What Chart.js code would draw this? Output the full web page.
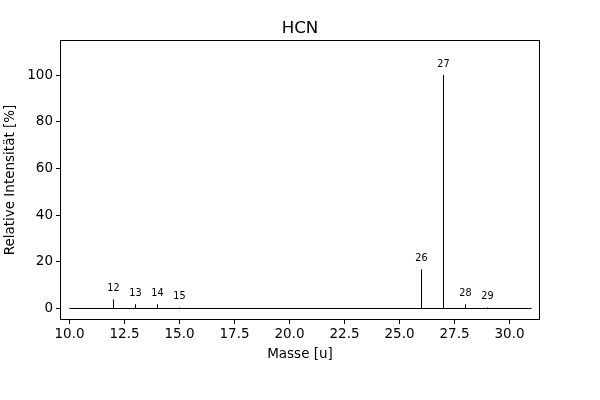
<!DOCTYPE html>
<html>
<head>
<meta charset="utf-8">
<script src="https://cdn.jsdelivr.net/npm/chart.js@4/dist/chart.umd.min.js"></script>
<style>
  body { margin: 0; background: #fff; }
  #wrap { width: 600px; height: 400px; }
</style>
</head>
<body>
<div id="wrap"><canvas id="myChart" width="600" height="400"></canvas></div>
<script>
// mass spectrum of HCN
var masses = [12, 13, 14, 15, 26, 27, 28, 29];
var intensities = [3.9, 1.8, 1.8, 0.4, 16.8, 100, 1.8, 0.4];
var xTicks = [10.0, 12.5, 15.0, 17.5, 20.0, 22.5, 25.0, 27.5, 30.0];
var yTicks = [0, 20, 40, 60, 80, 100];
var baseRange = [10, 31];

var font = "'DejaVu Sans', sans-serif";

// draws title, frame and the peak labels
var extras = {
    id: 'extras',
    afterDraw: function(chart) {
        var ctx = chart.ctx;
        var area = chart.chartArea;
        var xs = chart.scales.x;
        var ys = chart.scales.y;
        ctx.save();
        ctx.strokeStyle = '#000';
        ctx.lineWidth = 1;
        ctx.strokeRect(Math.round(area.left) + 0.5, Math.round(area.top) + 0.5,
            Math.round(area.right - area.left) - 1, Math.round(area.bottom - area.top) - 1);

        ctx.fillStyle = '#000';
        ctx.font = '16.7px ' + font;
        ctx.textAlign = 'center';
        ctx.textBaseline = 'alphabetic';
        ctx.fillText('HCN', (area.left + area.right) / 2, 33);

        ctx.font = '9.7px ' + font;
        ctx.textBaseline = 'bottom';
        for (var i = 0; i < masses.length; i++) {
            ctx.fillText(String(masses[i]), xs.getPixelForValue(masses[i]),
                ys.getPixelForValue(intensities[i] + 3) + 1);
        }
        ctx.restore();
    }
};

var points = masses.map(function(m, i) { return { x: m, y: intensities[i] }; });

var ctx = document.getElementById('myChart').getContext('2d');
var myChart = new Chart(ctx, {
    type: 'bar',
    data: {
        datasets: [{
            type: 'bar',
            data: points,
            backgroundColor: '#000',
            borderWidth: 0,
            inflateAmount: 0,
            barThickness: 1
        }, {
            type: 'line',
            data: [{ x: baseRange[0], y: 0 }, { x: baseRange[1], y: 0 }],
            borderColor: '#000',
            borderWidth: 1,
            pointRadius: 0,
            fill: false
        }]
    },
    options: {
        responsive: false,
        animation: false,
        layout: { padding: { left: 0, right: 60, top: 40, bottom: 0 } },
        plugins: {
            legend: { display: false },
            tooltip: { enabled: false }
        },
        scales: {
            x: {
                type: 'linear',
                offset: false,
                min: 9.568,
                max: 31.386,
                afterFit: function(scale) { scale.height = 80; },
                afterBuildTicks: function(scale) {
                    scale.ticks = xTicks.map(function(v) { return { value: v }; });
                },
                grid: { offset: false, drawOnChartArea: false, drawTicks: true, tickLength: 4, color: '#000' },
                border: { display: false },
                ticks: {
                    color: '#000',
                    font: { family: font, size: 13.5 },
                    padding: 2,
                    maxRotation: 0,
                    autoSkip: false,
                    callback: function(v) { return Number(v).toFixed(1); }
                },
                title: {
                    display: true,
                    text: 'Masse [u]',
                    color: '#000',
                    font: { family: font, size: 13.5 },
                    padding: { top: 2, bottom: 37 }
                }
            },
            y: {
                min: -4.926,
                max: 115,
                afterFit: function(scale) { scale.width = 60; },
                afterBuildTicks: function(scale) {
                    scale.ticks = yTicks.map(function(v) { return { value: v }; });
                },
                grid: { drawOnChartArea: false, drawTicks: true, tickLength: 4, color: '#000' },
                border: { display: false },
                ticks: {
                    color: '#000',
                    font: { family: font, size: 13.5 },
                    padding: 3
                },
                title: {
                    display: true,
                    text: 'Relative Intensität [%]',
                    color: '#000',
                    font: { family: font, size: 13.5 },
                    padding: { top: 2, bottom: 0 }
                }
            }
        }
    },
    plugins: [extras]
});
</script>
</body>
</html>
